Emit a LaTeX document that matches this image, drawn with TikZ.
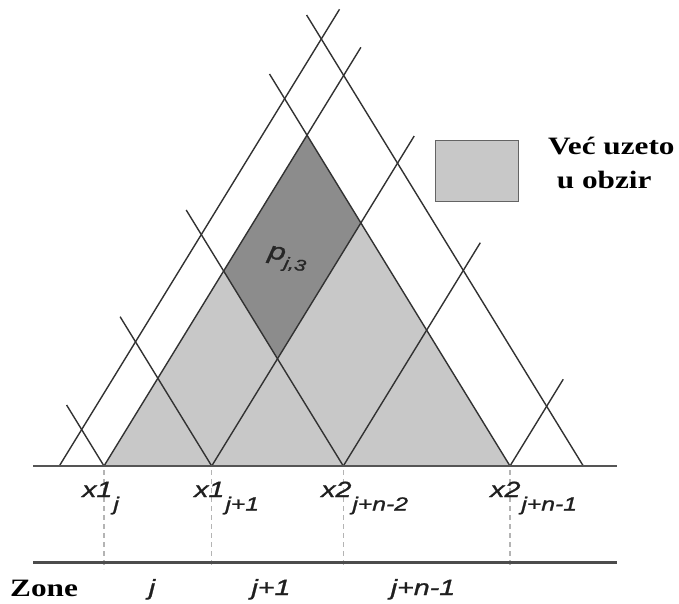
\documentclass[tikz,border=0pt]{standalone}
\usepackage{fontspec}
\newfontfamily\labfont[FakeStretch=1.3, ItalicFeatures={FakeBold=1.2}]{Liberation Sans}
\newfontfamily\serfont[FakeStretch=1.25]{Liberation Serif}
\definecolor{lightfill}{RGB}{200,200,200}
\definecolor{darkfill}{RGB}{140,140,140}
\definecolor{linecol}{RGB}{50,50,50}
\definecolor{axiscol}{RGB}{85,85,85}
\definecolor{dashcol}{RGB}{180,180,180}
\definecolor{boxcol}{RGB}{100,100,100}
\newcommand{\lowsub}[1]{\raisebox{-13.5pt}{\fontsize{19}{20}\selectfont #1}}
\begin{document}
\begin{tikzpicture}[x=1pt,y=-1pt,
  mf/.style={line width=1.4pt, draw=linecol},
  axisline/.style={line width=2.6pt, draw=axiscol},
  guide/.style={line width=1.1pt, draw=dashcol, dash pattern=on 5pt off 4pt},
  xlab/.style={anchor=base west, inner sep=0pt, text=black!88, font=\labfont\itshape\fontsize{22}{24}\selectfont},
  zlab/.style={anchor=base, inner sep=0pt, text=black!88, font=\labfont\itshape\fontsize{22}{24}\selectfont},
  boldlab/.style={anchor=base west, inner sep=0pt, font=\serfont\bfseries\fontsize{25}{28}\selectfont},
]
\useasboundingbox (0,0) rectangle (679,603);
% base points
\coordinate (b0) at (59.3,466);
\coordinate (b1) at (104,466);
\coordinate (b2) at (211.7,466);
\coordinate (b3) at (343.3,466);
\coordinate (b4) at (510,466);
\coordinate (b5) at (583.3,466);
% rising line ends
\coordinate (r0) at (339.5,9.3);
\coordinate (r1) at (360.9,47.3);
\coordinate (r2) at (414.2,136);
\coordinate (r3) at (480.3,242.7);
\coordinate (r4) at (563.2,379.3);
% falling line ends
\coordinate (f1) at (66.6,405);
\coordinate (f2) at (120.1,316.7);
\coordinate (f3) at (186.2,210);
\coordinate (f4) at (269.5,74);
\coordinate (f5) at (306.6,15);
% key vertices
\coordinate (apex) at (intersection of b1--r1 and b4--f4);
\coordinate (dR) at (intersection of b2--r2 and b4--f4);
\coordinate (dB) at (intersection of b2--r2 and b3--f3);
\coordinate (dL) at (intersection of b1--r1 and b3--f3);
% fills
\fill[lightfill] (b1) -- (apex) -- (b4) -- cycle;
\fill[darkfill] (apex) -- (dR) -- (dB) -- (dL) -- cycle;
% guides
\foreach \gx in {104,211.7,343.3,510}
  \draw[guide] (\gx,470) -- (\gx,569);
% lines
\foreach \a/\b in {b0/r0,b1/r1,b2/r2,b3/r3,b4/r4,b1/f1,b2/f2,b3/f3,b4/f4,b5/f5}
  \draw[mf] (\a) -- (\b);
% axes
\coordinate (axL) at (33,466);
\coordinate (axR) at (617,466);
\coordinate (zL) at (33,562);
\coordinate (zR) at (617,562);
\draw[axisline] (axL) -- (axR);
\draw[axisline, line width=3pt, draw=black!70] (zL) -- (zR);
% legend
\node[draw=boxcol, fill=lightfill, line width=1.5pt, minimum width=83pt, minimum height=61pt, inner sep=0pt] (legbox) at (477,171) {};
\node[boldlab] (leg1) at (548,154.3) {Već uzeto};
\node[boldlab] (leg2) at (556.7,188) {u obzir};
% labels
\node[xlab] (lx1) at (82,497) {x1\kern1pt\lowsub{j}};
\node[xlab] (lx2) at (194,497) {x1\kern1pt\lowsub{j+1}};
\node[xlab] (lx3) at (321,497) {x2\kern1pt\lowsub{j+n-2}};
\node[xlab] (lx4) at (490,497) {x2\kern1pt\lowsub{j+n-1}};
\node[boldlab] (zone) at (10,596.7) {Zone};
\node[zlab] (zj) at (152,595) {j};
\node[zlab] (zj1) at (271,595) {j+1};
\node[zlab] (zjn) at (423,595) {j+n-1};
\node[rotate=-10, inner sep=0pt, text=black!85, font=\labfont\itshape\fontsize{24}{26}\selectfont] (plab) at (287,260) {p\raisebox{-7pt}{\fontsize{16}{17}\selectfont j,3}};
\end{tikzpicture}
\end{document}
